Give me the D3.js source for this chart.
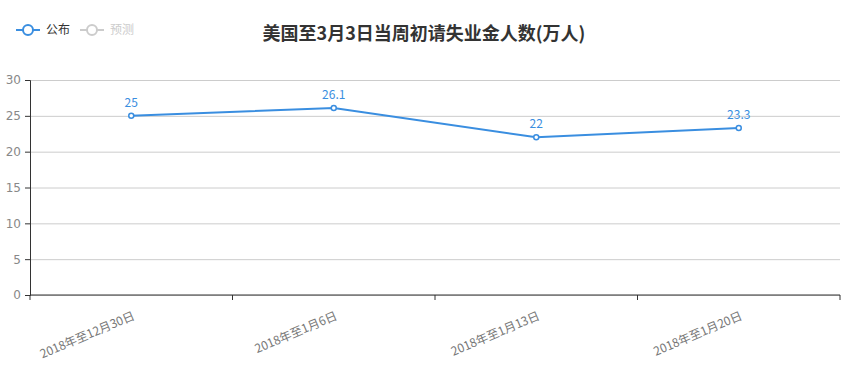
<!DOCTYPE html>
<html>
<head>
<meta charset="utf-8">
<script src="https://cdn.jsdelivr.net/npm/d3@7"></script>
<style>
  body { margin: 0; background: #fff; }
  svg text { font-family: "Microsoft YaHei", "Noto Sans CJK SC", sans-serif; }
</style>
</head>
<body>
<div class="chart"></div>
<script>
// data
const categories = ["2018年至12月30日", "2018年至1月6日", "2018年至1月13日", "2018年至1月20日"];
const published = [25, 26.1, 22, 23.3];
const yTicks = [0, 5, 10, 15, 20, 25, 30];
const legendNames = ["公布", "预测"];
const title = "美国至3月3日当周初请失业金人数(万人)";

const width = 852, height = 380;
const margin = {top: 80, right: 12, bottom: 85, left: 30};
const lineColor = "#3a8ee0";

const svg = d3.select(".chart").append("svg")
  .attr("width", width)
  .attr("height", height);

const g = svg.append("g")
  .attr("transform", "translate(" + margin.left + "," + margin.top + ")");

const innerW = width - margin.left - margin.right;
const innerH = height - margin.top - margin.bottom;

const x = d3.scaleBand().domain(categories).range([0, innerW]);
const y = d3.scaleLinear().domain([0, 30]).range([innerH, 0]);

// gridlines
g.append("g")
  .attr("class", "ygrid")
  .call(d3.axisLeft(y).tickValues(yTicks).tickSize(-innerW).tickFormat(""))
  .call(s => s.select(".domain").remove())
  .selectAll("line").attr("stroke", "#ccc");

// y axis
const yAxis = g.append("g")
  .call(d3.axisLeft(y).tickValues(yTicks).tickSize(5).tickPadding(4));
yAxis.select(".domain").attr("stroke", "#333");
yAxis.selectAll(".tick line").attr("stroke", "#333");
yAxis.selectAll("text").attr("fill", "#888").style("font-size", "12px")
  .style("font-family", "'DejaVu Sans', sans-serif");

// x axis, ticks on band edges
const xAxis = g.append("g")
  .attr("transform", "translate(0," + innerH + ")");
xAxis.append("line")
  .attr("x1", 0).attr("x2", innerW)
  .attr("stroke", "#333");
const edges = categories.map(c => x(c)).concat([innerW]);
xAxis.selectAll(".edge").data(edges).enter().append("line")
  .attr("x1", d => d).attr("x2", d => d)
  .attr("y1", 0).attr("y2", 5)
  .attr("stroke", "#333");
xAxis.selectAll(".xlabel").data(categories).enter().append("text")
  .attr("transform", d => "translate(" + (x(d) + x.bandwidth() / 2) + ",14) rotate(-23)")
  .attr("text-anchor", "end")
  .attr("dy", "0.9em")
  .attr("fill", "#777")
  .style("font-size", "12px")
  .text(d => d);

// line
const pts = categories.map((c, i) => ({c: c, v: published[i]}));
const line = d3.line()
  .x(d => x(d.c) + x.bandwidth() / 2)
  .y(d => y(d.v));

g.append("path")
  .datum(pts)
  .attr("fill", "none")
  .attr("stroke", lineColor)
  .attr("stroke-width", 2)
  .attr("d", line);

g.selectAll(".dot").data(pts).enter().append("circle")
  .attr("cx", d => x(d.c) + x.bandwidth() / 2)
  .attr("cy", d => y(d.v))
  .attr("r", 2.5)
  .attr("fill", "#fff")
  .attr("stroke", lineColor)
  .attr("stroke-width", 1.5);

g.selectAll(".lbl").data(pts).enter().append("text")
  .attr("x", d => x(d.c) + x.bandwidth() / 2)
  .attr("y", d => y(d.v) - 9)
  .attr("text-anchor", "middle")
  .attr("fill", lineColor)
  .style("font-size", "12px")
  .text(d => d.v);

// title
svg.append("text")
  .attr("x", 424).attr("y", 40)
  .attr("text-anchor", "middle")
  .attr("fill", "#333")
  .style("font-size", "18px")
  .style("font-weight", "bold")
  .text(title);

// legend
const legendColors = [lineColor, "#ccc"];
const legendText = ["#333", "#ccc"];
const lg = svg.append("g").attr("transform", "translate(16,30)");
legendNames.forEach(function(n, i){
  const item = lg.append("g").attr("transform", "translate(" + (i * 64) + ",0)");
  item.append("line").attr("x1", 0).attr("x2", 24)
    .attr("stroke", legendColors[i]).attr("stroke-width", 2);
  item.append("circle").attr("cx", 12).attr("r", 5)
    .attr("fill", "#fff").attr("stroke", legendColors[i]).attr("stroke-width", 2);
  item.append("text").attr("x", 30).attr("dy", "0.35em")
    .attr("fill", legendText[i]).style("font-size", "12px").text(n);
});
</script>
</body>
</html>
